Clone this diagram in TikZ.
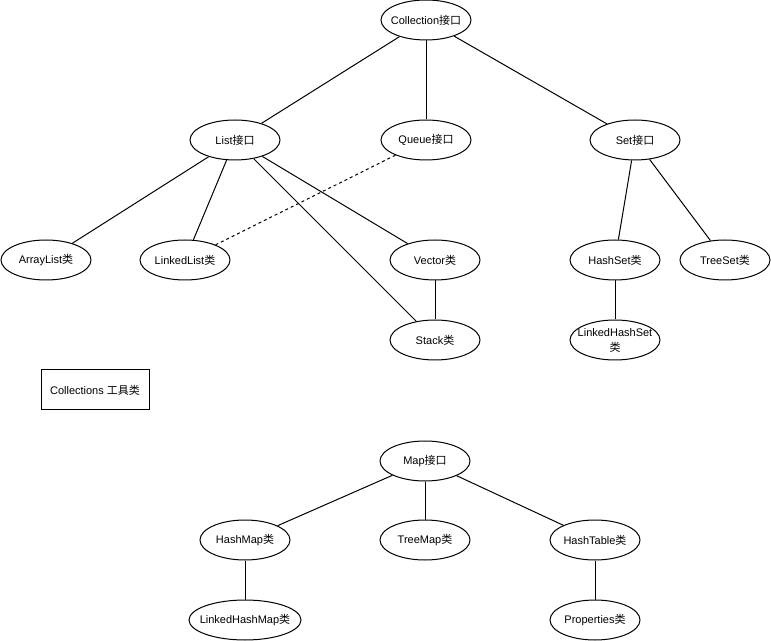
\documentclass[tikz,border=0pt]{standalone}
\usepackage{fontspec}
\setmainfont{Liberation Sans}
\newfontfamily\cjk{Noto Sans CJK SC}
\usetikzlibrary{shapes.geometric}
\newcommand{\zbox}[1]{\makebox[0pt]{#1}}
\begin{document}
\begin{tikzpicture}[x=0.75pt,y=-0.75pt,
  every node/.style={font=\fontsize{8.25pt}{9.5pt}\selectfont},
  el/.style={draw,ellipse,line width=0.75pt,minimum width=67.5pt,minimum height=30pt,inner sep=0pt,fill=white},
  box/.style={draw,rectangle,line width=0.75pt,minimum width=81pt,minimum height=30pt,inner sep=0pt},
  link/.style={line width=0.75pt},
  dlink/.style={line width=0.75pt,dash pattern=on 2.25pt off 2.25pt}]
\useasboundingbox (0,0) rectangle (771,641);
\node[el] (coll) at (426,20) {\zbox{Collection{\cjk 接口}}};
\node[el] (list) at (235,140) {\zbox{List{\cjk 接口}}};
\node[el] (queue) at (426,140) {\zbox{Queue{\cjk 接口}}};
\node[el] (set) at (635,140) {\zbox{Set{\cjk 接口}}};
\node[el] (arr) at (46,260) {\zbox{ArrayList{\cjk 类}}};
\node[el] (linked) at (185,260) {\zbox{LinkedList{\cjk 类}}};
\node[el] (vec) at (435,260) {\zbox{Vector{\cjk 类}}};
\node[el] (stack) at (435,340) {\zbox{Stack{\cjk 类}}};
\node[el] (hset) at (615,260) {\zbox{HashSet{\cjk 类}}};
\node[el] (tset) at (725,260) {\zbox{TreeSet{\cjk 类}}};
\node[el] (lhset) at (615,340) {\smash{\zbox{\raisebox{-3pt}{\begin{tabular}[c]{@{}c@{}}LinkedHashSet\\[1.5pt]{\cjk 类}\end{tabular}}}}};
\node[box] (colls) at (95,390) {Collections {\cjk 工具类}};
\node[el] (map) at (425,461) {\zbox{Map{\cjk 接口}}};
\node[el] (hmap) at (245,540) {\zbox{HashMap{\cjk 类}}};
\node[el] (tmap) at (425,540) {\zbox{TreeMap{\cjk 类}}};
\node[el] (htab) at (595,540) {\zbox{HashTable{\cjk 类}}};
\node[el,minimum width=84pt] (lhmap) at (245,620) {\zbox{LinkedHashMap{\cjk 类}}};
\node[el] (prop) at (595,620) {\zbox{Properties{\cjk 类}}};
\draw[link] (coll) -- (list);
\draw[link] (coll) -- (queue);
\draw[link] (coll) -- (set);
\draw[link] (list) -- (arr);
\draw[link] (list) -- (linked);
\draw[link] (list) -- (vec);
\draw[link] (list) -- (stack);
\draw[link] (vec) -- (stack);
\draw[dlink] (queue) -- (linked);
\draw[link] (set) -- (hset);
\draw[link] (set) -- (tset);
\draw[link] (hset) -- (lhset);
\draw[link] (map) -- (hmap);
\draw[link] (map) -- (tmap);
\draw[link] (map) -- (htab);
\draw[link] (hmap) -- (lhmap);
\draw[link] (htab) -- (prop);
\end{tikzpicture}
\end{document}
